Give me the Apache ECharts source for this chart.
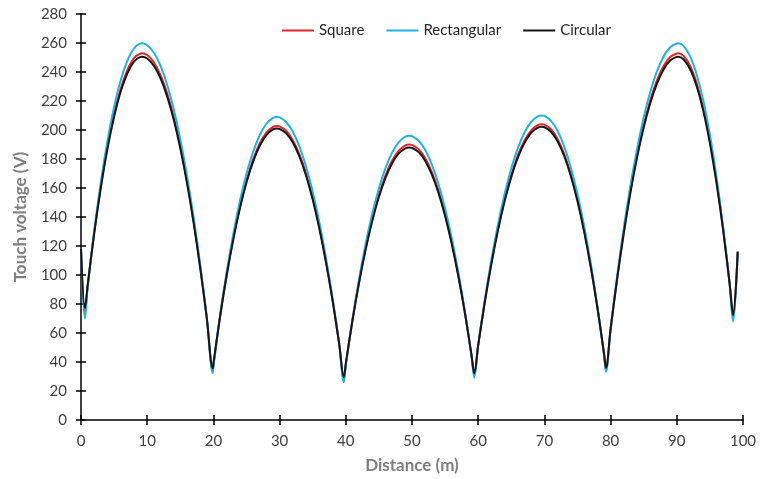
<!DOCTYPE html>
<html>
<head>
<meta charset="utf-8">
<script src="https://cdn.jsdelivr.net/npm/echarts@6/dist/echarts.min.js"></script>
<style>html,body{margin:0;padding:0;background:#fff;}#c{width:760px;height:479px;}</style>
</head>
<body>
<div id="c"></div>
<script>
const distance = [0,0.6,1,2,3,4,5,6,7,8,9,9.2,10,11,12,13,14,15,16,17,18,19,19.9,20,21,22,23,24,25,26,27,28,29,29.6,30,31,32,33,34,35,36,37,38,39,39.7,40,41,42,43,44,45,46,47,48,49,49.6,50,51,52,53,54,55,56,57,58,59,59.4,60,61,62,63,64,65,66,67,68,69,69.6,70,71,72,73,74,75,76,77,78,79,79.3,80,81,82,83,84,85,86,87,88,89,90,90.2,91,92,93,94,95,96,97,98,98.5,99.2];

const square = [118,73,92.0,129.4,161.3,188.5,210.9,228.5,241.3,249.5,252.8,252.9,
251.7,246.7,238.0,225.5,209.2,189.0,165.0,137.3,105.7,70.4,34.0,
37.7,71.2,100.0,125.3,147.0,165.1,179.7,190.8,198.2,202.2,202.8,
202.5,199.5,193.0,183.2,169.9,153.2,133.1,109.6,82.8,52.5,28.0,
38.2,68.7,95.3,118.6,138.6,155.3,168.7,178.9,185.8,189.4,190,
189.7,186.8,180.6,170.9,158.1,142.0,122.5,99.8,73.8,44.1,31.0,
51.6,81.7,108.5,132.0,152.1,169.0,182.6,192.8,199.8,203.4,204.0,
203.7,200.5,193.7,183.4,169.4,151.9,130.8,106.1,77.9,45.6,34.8,
62.7,98.1,130.0,158.1,182.6,203.5,220.6,234.2,244.1,250.3,252.8,252.9,
251.2,244.4,232.3,215.0,192.4,164.6,131.6,93.2,70.0,116];

const rectangular = [118,70,91.3,130.8,164.1,192.6,215.9,234.3,247.7,256.2,259.7,259.8,
258.5,253.4,244.4,231.4,214.5,193.7,168.9,140.2,107.5,70.9,32.4,
36.3,71.9,101.9,128.2,150.9,169.8,184.9,196.4,204.3,208.4,209,
208.7,205.5,198.8,188.6,174.8,157.4,136.5,112.0,84.1,52.7,26.1,
37.2,69.5,97.2,121.5,142.4,159.8,173.8,184.5,191.7,195.4,196,
195.7,192.6,186.2,176.1,162.8,145.9,125.6,101.9,74.8,43.5,29.2,
51.5,82.9,110.8,135.1,156.1,173.6,187.7,198.3,205.6,209.4,210.0,
209.7,206.3,199.3,188.5,174.0,155.8,133.8,108.1,78.7,44.9,33.3,
62.9,99.6,132.6,161.7,187.1,208.7,226.4,240.4,250.7,257.1,259.7,259.8,
258.0,250.9,238.3,220.3,196.7,167.7,133.3,93.2,67.8,116];

const circular = [118,77,92.8,128.9,160.3,187.1,209.1,226.5,239.1,247.1,250.4,250.5,
249.3,244.4,235.8,223.4,207.3,187.4,163.7,136.3,105.1,70.2,35.6,
39.0,71.0,99.5,124.4,145.9,163.8,178.2,189.1,196.5,200.4,201,
200.7,197.7,191.3,181.6,168.5,152.0,132.1,108.9,82.4,52.5,29.5,
39.0,68.4,94.6,117.6,137.3,153.8,167.0,177.1,183.9,187.4,188,
187.7,184.8,178.7,169.2,156.6,140.7,121.5,99.1,73.5,44.6,32.2,
51.6,81.4,107.9,131.1,151.0,167.7,181.1,191.2,198.1,201.7,202.3,
202.0,198.8,192.1,181.9,168.1,150.8,129.9,105.5,77.6,46.2,36,
62.6,97.6,129.1,156.9,181.1,201.7,218.6,232.0,241.8,247.9,250.4,250.5,
248.8,242.1,230.2,213.2,190.9,163.5,131.0,93.2,72.4,116];

const seriesNames = ['Square', 'Rectangular', 'Circular'];
const seriesColors = ['#e3262c', '#22b2e2', '#161616'];
const seriesValues = [square, rectangular, circular];

const xMin = 0, xMax = 100, xStep = 10;
const yMin = 0, yMax = 280, yStep = 20;

const font = 'Lato, "Open Sans", sans-serif';
const chart = echarts.init(document.getElementById('c'), null, {renderer: 'canvas'});

function pairs(arr) { return distance.map((d, i) => [d, arr[i]]); }

const baseX = {
  type: 'value', min: xMin, max: xMax, interval: xStep,
  splitLine: {show: false}
};
const baseY = {
  type: 'value', min: yMin, max: yMax, interval: yStep,
  splitLine: {show: false}
};

chart.setOption({
  backgroundColor: '#fff',
  animation: false,
  grid: {left: 81, right: 17, top: 14, bottom: 59},
  legend: {
    data: seriesNames.map(n => ({name: n, icon: 'rect'})),
    left: 277, top: 18,
    itemWidth: 32, itemHeight: 2, itemGap: 22,
    textStyle: {fontFamily: font, fontSize: 15, color: '#262626'}
  },
  xAxis: [
    Object.assign({}, baseX, {
      position: 'bottom',
      name: 'Distance (m)', nameLocation: 'middle', nameGap: 37,
      nameTextStyle: {fontFamily: font, fontSize: 17, fontWeight: 'bold', color: '#7f7f7f'},
      axisLine: {show: true, lineStyle: {color: '#000', width: 1.5}},
      axisTick: {show: true, inside: false, length: 5, lineStyle: {color: '#000', width: 1.5}},
      axisLabel: {fontFamily: font, fontSize: 15, color: '#404040', margin: 14}
    }),
    Object.assign({}, baseX, {
      position: 'bottom',
      axisLine: {show: false},
      axisTick: {show: true, inside: true, length: 5, lineStyle: {color: '#000', width: 1.5}},
      axisLabel: {show: false}
    })
  ],
  yAxis: [
    Object.assign({}, baseY, {
      position: 'left',
      name: 'Touch voltage (V)', nameLocation: 'middle', nameGap: 52,
      nameTextStyle: {fontFamily: font, fontSize: 17, fontWeight: 'bold', color: '#7f7f7f'},
      axisLine: {show: true, lineStyle: {color: '#000', width: 1.5}},
      axisTick: {show: true, inside: false, length: 5, lineStyle: {color: '#000', width: 1.5}},
      axisLabel: {fontFamily: font, fontSize: 15, color: '#404040', margin: 14}
    }),
    Object.assign({}, baseY, {
      position: 'left',
      axisLine: {show: false},
      axisTick: {show: true, inside: true, length: 5, lineStyle: {color: '#000', width: 1.5}},
      axisLabel: {show: false}
    })
  ],
  series: seriesNames.map((name, i) => ({
    name: name,
    type: 'line',
    xAxisIndex: 0, yAxisIndex: 0,
    data: pairs(seriesValues[i]),
    showSymbol: false, symbol: 'none',
    smooth: 0.35,
    lineStyle: {color: seriesColors[i], width: 2},
    itemStyle: {color: seriesColors[i]}
  }))
});
</script>
</body>
</html>
